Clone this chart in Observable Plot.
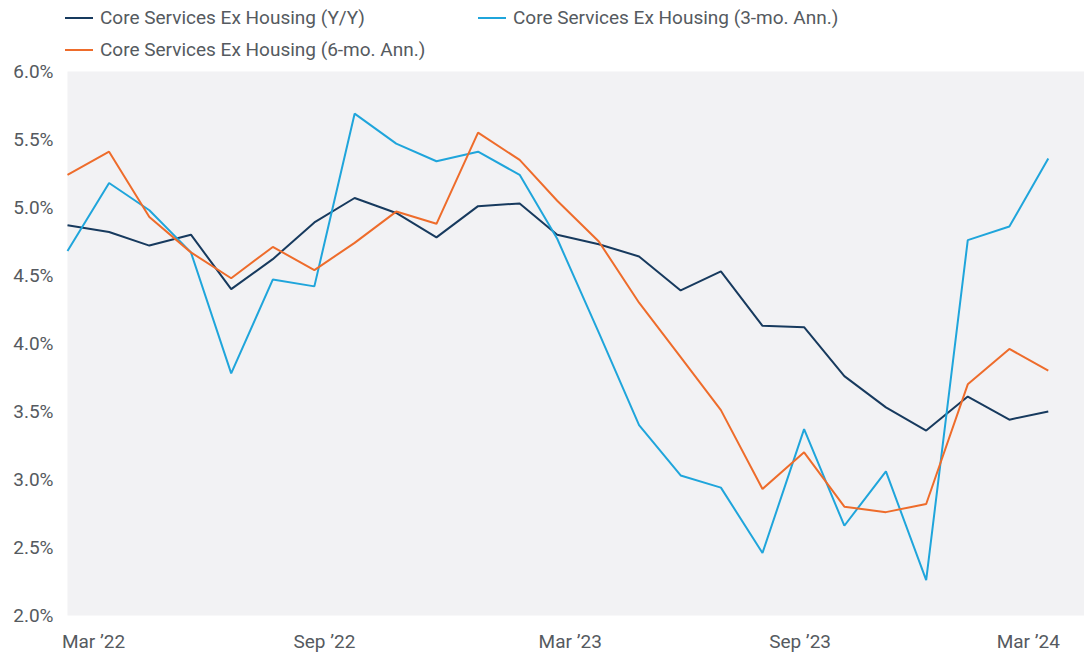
<!DOCTYPE html>
<html>
<head>
<meta charset="utf-8">
<script src="https://cdn.jsdelivr.net/npm/d3@7"></script>
<script src="https://cdn.jsdelivr.net/npm/@observablehq/plot@0.6"></script>
<style>
  html, body { margin: 0; padding: 0; background: #ffffff; }
  body { width: 1084px; height: 656px; overflow: hidden; font-family: Roboto, "Noto Sans", sans-serif; }
  #legend { position: relative; height: 62px; width: 1084px; }
  .item { position: absolute; display: flex; align-items: center; font-size: 19px; color: #555a60; white-space: nowrap; }
  .sw { width: 28px; height: 2px; margin-right: 7px; }
</style>
</head>
<body>
<div id="legend"></div>
<div id="chart"></div>
<script>
const months = ["2022-03","2022-04","2022-05","2022-06","2022-07","2022-08","2022-09","2022-10","2022-11","2022-12",
  "2023-01","2023-02","2023-03","2023-04","2023-05","2023-06","2023-07","2023-08","2023-09","2023-10","2023-11","2023-12",
  "2024-01","2024-02","2024-03"];
const yoy  = [4.87,4.82,4.72,4.80,4.40,4.62,4.89,5.07,4.96,4.78,5.01,5.03,4.80,4.73,4.64,4.39,4.53,4.13,4.12,3.76,3.53,3.36,3.61,3.44,3.50];
const ann3 = [4.68,5.18,4.98,4.67,3.78,4.47,4.42,5.69,5.47,5.34,5.41,5.24,4.77,4.08,3.40,3.03,2.94,2.46,3.37,2.66,3.06,2.26,4.76,4.86,5.36];
const ann6 = [5.24,5.41,4.93,4.67,4.48,4.71,4.54,4.74,4.97,4.88,5.55,5.35,5.05,4.75,4.30,3.90,3.51,2.93,3.20,2.80,2.76,2.82,3.70,3.96,3.80];
const seriesNames = ["Core Services Ex Housing (Y/Y)", "Core Services Ex Housing (3-mo. Ann.)", "Core Services Ex Housing (6-mo. Ann.)"];
const seriesColors = ["#173a5e", "#1fa5db", "#ee6c2b"];
const yTicks = [2.0, 2.5, 3.0, 3.5, 4.0, 4.5, 5.0, 5.5, 6.0];
const xTickMonths = ["2022-03", "2022-09", "2023-03", "2023-09", "2024-03"];
const xTickLabels = ["Mar \u201922", "Sep \u201922", "Mar \u201923", "Sep \u201923", "Mar \u201924"];

const parse = d3.utcParse("%Y-%m");
const allSeries = [yoy, ann3, ann6];
const data = [];
allSeries.forEach((vals, s) => {
  vals.forEach((v, i) => data.push({date: parse(months[i]), value: v, series: seriesNames[s]}));
});

// legend
const legendPos = [{left: 65, top: 6}, {left: 478, top: 6}, {left: 65, top: 38}];
const legend = document.getElementById("legend");
seriesNames.forEach((name, i) => {
  const it = document.createElement("div");
  it.className = "item";
  it.style.left = legendPos[i].left + "px";
  it.style.top = legendPos[i].top + "px";
  it.innerHTML = `<span class="sw" style="background:${seriesColors[i]}"></span><span>${name}</span>`;
  legend.appendChild(it);
});

const tickDates = xTickMonths.map(parse);
const labelShift = [26, 10, 13, -4, -20];
const xAxes = tickDates.map((d, i) => Plot.axisX([d], {
  tickSize: 0, tickPadding: 0, dy: 26, dx: labelShift[i],
  tickFormat: () => xTickLabels[i], fontSize: 19, fill: "#555a60", textAnchor: "middle", lineAnchor: "middle"
}));

const chart = Plot.plot({
  width: 1084,
  height: 594,
  marginLeft: 67,
  marginRight: 0,
  marginTop: 9,
  marginBottom: 41,
  style: {fontFamily: "Roboto, 'Noto Sans', sans-serif", background: "transparent", overflow: "visible"},
  x: {type: "utc", domain: [parse("2022-03"), new Date(Date.UTC(2024, 2, 28))], label: null},
  y: {domain: [2, 6], label: null},
  color: {domain: seriesNames, range: seriesColors},
  marks: [
    Plot.frame({fill: "#f2f2f4", stroke: null}),
    Plot.axisY(yTicks, {tickSize: 0, tickPadding: 14, tickFormat: d => d.toFixed(1) + "%", fontSize: 19, fill: "#555a60", label: null}),
    ...xAxes,
    Plot.line(data, {x: "date", y: "value", z: "series", stroke: "series", strokeWidth: 2, strokeLinejoin: "miter", strokeLinecap: "butt"})
  ]
});
document.getElementById("chart").appendChild(chart);
</script>
</body>
</html>
